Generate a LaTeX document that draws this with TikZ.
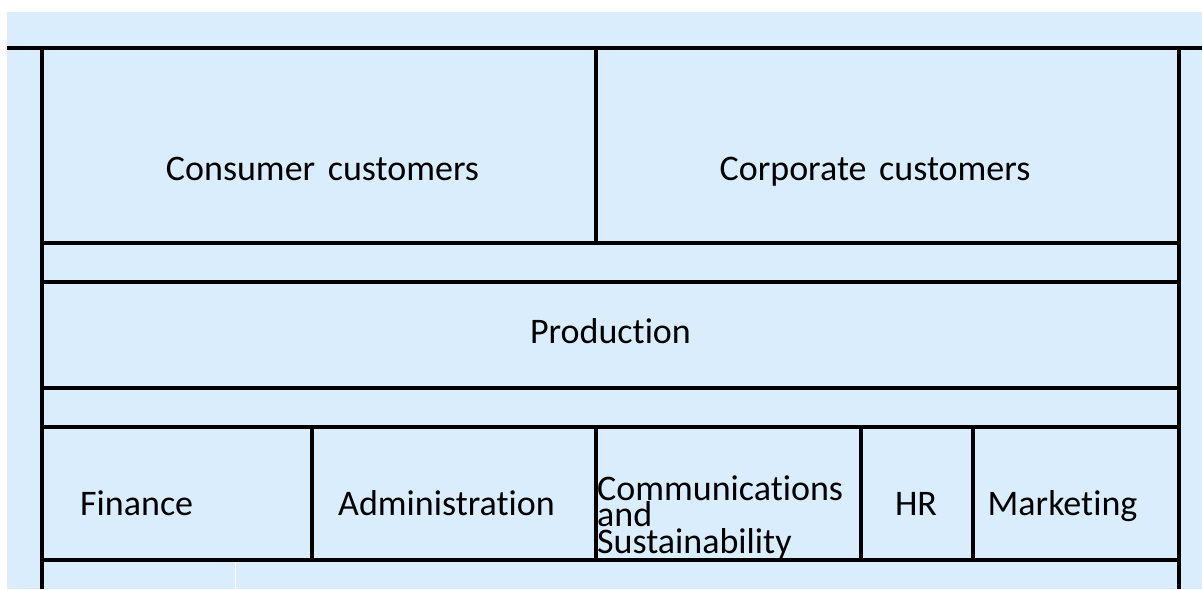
\documentclass[tikz,border=0pt]{standalone}
\usepackage{fontspec}
\setmainfont{Carlito}[Ligatures={NoCommon,NoRequired,NoContextual}, RawFeature={-liga;-clig;-dlig}]
\definecolor{bgblue}{RGB}{218,237,253}
\tikzset{
  cell/.style={draw=black, line width=3.3pt, inner sep=0pt, minimum width=#1},
  frameline/.style={line width=3.3pt},
  lbl/.style={anchor=base, inner sep=0pt, font=\fontsize{36}{26.5}\selectfont},
}
\begin{document}
\begin{tikzpicture}[x=1pt,y=-1pt]
\useasboundingbox (0,0) rectangle (1202,589);
\fill[bgblue] (7,12) rectangle (1202,589);
% frame lines
\coordinate (tl) at (7,48);
\coordinate (tr) at (1202,48);
\coordinate (lt) at (42,48);
\coordinate (lb) at (42,589);
\coordinate (rt) at (1179,48);
\coordinate (rb) at (1179,589);
\draw[frameline] (tl) -- (tr);
\draw[frameline] (lt) -- (lb);
\draw[frameline] (rt) -- (rb);
% cells
\node[cell=554pt, minimum height=195pt] (consumer) at (319,145.5) {};
\node[cell=583pt, minimum height=195pt] (corporate) at (887.5,145.5) {};
\node[cell=1137pt, minimum height=39pt] (gap1) at (610.5,262.5) {};
\node[cell=1137pt, minimum height=106pt] (production) at (610.5,335) {};
\node[cell=1137pt, minimum height=39pt] (gap2) at (610.5,407.5) {};
\node[cell=270pt, minimum height=133pt] (finance) at (177,493.5) {};
\node[cell=284pt, minimum height=133pt] (admin) at (454,493.5) {};
\node[cell=265pt, minimum height=133pt] (comm) at (728.5,493.5) {};
\node[cell=112pt, minimum height=133pt] (hr) at (917,493.5) {};
\node[cell=206pt, minimum height=133pt] (marketing) at (1076,493.5) {};
% faint divider at bottom
\coordinate (fa) at (235,562);
\coordinate (fb) at (235,589);
\draw[white, line width=0.8pt] (fa) -- (fb);
% labels
\node[lbl] (tconsumer) at (322.5,180) {Consumer\hspace{0.35em}customers};
\node[lbl] (tcorporate) at (875,180) {Corporate\hspace{0.35em}customers};
\node[lbl] (tproduction) at (610.5,343) {Production};
\node[lbl, anchor=base west] (tfinance) at (80,515) {Finance};
\node[lbl] (tadmin) at (446.5,515) {Administration};
\node[lbl, anchor=base west] (tcomm1) at (597,500) {Communications};
\node[lbl, anchor=base west] (tcomm2) at (597,526.5) {and};
\node[lbl, anchor=base west] (tcomm3) at (597,553) {Sustainability};
\node[lbl] (thr) at (916,515) {HR};
\node[lbl] (tmarketing) at (1062.5,515) {Marketing};
\end{tikzpicture}
\end{document}
